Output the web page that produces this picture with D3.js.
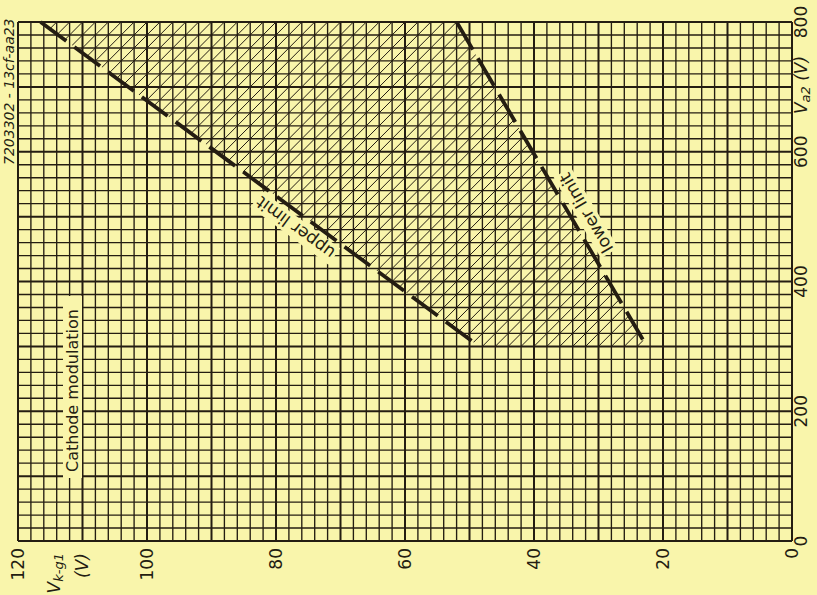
<!DOCTYPE html>
<html>
<head>
<meta charset="utf-8">
<script src="https://cdn.jsdelivr.net/npm/d3@7"></script>
<style>
  body { margin: 0; background: #f9f5ab; }
  svg { display: block; }
</style>
</head>
<body>
<div id="chart"></div>
<script>
// chart values
var vkTicks = [0, 20, 40, 60, 80, 100, 120];
var va2Ticks = [0, 200, 400, 600, 800];
var upperVk = [116.5, 48.5];
var upperVa2 = [800, 300];
var lowerVk = [52, 22.5];
var lowerVa2 = [800, 300];

var width = 817;
var height = 595;
var bg = "#f9f5ab";
var ink = "#241d12";

var x = d3.scaleLinear().domain([120, 0]).range([18, 792]);
var y = d3.scaleLinear().domain([0, 800]).range([541, 22]);

var svg = d3.select("#chart")
  .append("svg")
    .attr("width", width)
    .attr("height", height);

svg.append("rect")
  .attr("width", width)
  .attr("height", height)
  .attr("fill", bg);

// grid (minor every 2 V / 20 V, heavier every 10 V / 100 V)
var grid = svg.append("g");
grid.selectAll("line.v")
  .data(d3.range(0, 121, 2))
  .enter()
  .append("line")
    .attr("class", "v")
    .attr("x1", function(d) { return x(d); })
    .attr("x2", function(d) { return x(d); })
    .attr("y1", y(0))
    .attr("y2", y(800))
    .attr("stroke", ink)
    .attr("stroke-width", function(d) { return d % 10 === 0 ? 2 : 1.35; });

grid.selectAll("line.h")
  .data(d3.range(0, 801, 20))
  .enter()
  .append("line")
    .attr("class", "h")
    .attr("y1", function(d) { return y(d); })
    .attr("y2", function(d) { return y(d); })
    .attr("x1", x(120))
    .attr("x2", x(0))
    .attr("stroke", ink)
    .attr("stroke-width", function(d) { return d % 100 === 0 ? 2 : 1.35; });

// hatched working area
var area = [
  [upperVk[0], upperVa2[0]],
  [upperVk[1], upperVa2[1]],
  [lowerVk[1], lowerVa2[1]],
  [lowerVk[0], lowerVa2[0]]
];

svg.append("clipPath")
  .attr("id", "area-clip")
  .append("path")
    .attr("d", d3.line().x(function(d) { return x(d[0]); }).y(function(d) { return y(d[1]); })(area) + "Z");

svg.append("g")
  .attr("clip-path", "url(#area-clip)")
  .selectAll("line")
  .data(d3.range(0, 220, 2))
  .enter()
  .append("line")
    .attr("x1", function(c) { return x(c); })
    .attr("y1", y(0))
    .attr("x2", function(c) { return x(c - 80); })
    .attr("y2", y(800))
    .attr("stroke", ink)
    .attr("stroke-width", 1);

// limit lines
var limitLine = d3.line()
  .x(function(d) { return x(d[0]); })
  .y(function(d) { return y(d[1]); });

function drawLimit(vk, va2) {
  svg.append("path")
    .attr("d", limitLine(d3.zip(vk, va2)))
    .attr("fill", "none")
    .attr("stroke", ink)
    .attr("stroke-width", 3.8)
    .attr("stroke-dasharray", "32,10");
}
drawLimit(upperVk, upperVa2);
drawLimit(lowerVk, lowerVa2);

// labels along the lines
function lineLabel(vk, va2, atVa2, text, dy) {
  var t = (atVa2 - va2[1]) / (va2[0] - va2[1]);
  var vkAt = vk[1] + t * (vk[0] - vk[1]);
  var px = x(vkAt), py = y(atVa2);
  var ang = Math.atan2(y(va2[1]) - y(va2[0]), x(vk[1]) - x(vk[0])) * 180 / Math.PI + 180;
  var g = svg.append("g")
    .attr("transform", "translate(" + px + "," + py + ") rotate(" + ang + ")");
  var txt = g.append("text")
    .attr("text-anchor", "middle")
    .attr("y", dy)
    .attr("font-family", "DejaVu Sans, sans-serif")
    .attr("font-size", 17)
    .attr("fill", ink)
    .text(text);
  var b = txt.node().getBBox();
  g.insert("rect", "text")
    .attr("x", b.x - 2)
    .attr("y", b.y)
    .attr("width", b.width + 4)
    .attr("height", b.height)
    .attr("fill", bg);
}
lineLabel(upperVk, upperVa2, 500, "upper limit", -8);
lineLabel(lowerVk, lowerVa2, 494, "lower limit", 21);

// rotated text helper
function vtext(px, py, anchor, size, str, opts) {
  opts = opts || {};
  var t = svg.append("text")
    .attr("transform", "translate(" + px + "," + py + ") rotate(-90)")
    .attr("text-anchor", anchor)
    .attr("font-family", opts.family || "DejaVu Sans, sans-serif")
    .attr("font-size", size)
    .attr("font-style", opts.italic ? "italic" : "normal")
    .attr("fill", ink);
  if (str !== null) t.text(str);
  return t;
}

// right axis (Va2)
va2Ticks.forEach(function(v) {
  vtext(807, y(v), "middle", 17, String(v));
});
var va2Title = vtext(807, 85, "middle", 17, null, { italic: true });
va2Title.append("tspan").text("V");
va2Title.append("tspan").attr("font-size", 13).attr("dy", 3).text("a2");
va2Title.append("tspan").attr("dy", -3).text(" (V)");

// bottom axis (Vk-g1)
vkTicks.forEach(function(v) {
  vtext(x(v) + 6, 548, "end", 17, String(v));
});
var vkTitle = vtext(60, 553, "end", 17, null, { italic: true });
vkTitle.append("tspan").text("V");
vkTitle.append("tspan").attr("font-size", 13).attr("dy", 3).text("k-g1");
vtext(88, 553, "end", 17, "(V)", { italic: true });

// drawing number
vtext(14, 165, "start", 14, "7203302 - 13cf-aa23", { italic: true });

// Cathode modulation
svg.append("rect")
  .attr("x", 63)
  .attr("y", 296)
  .attr("width", 19)
  .attr("height", 182)
  .attr("fill", bg);
vtext(78, 472, "start", 16, "Cathode modulation");
</script>
</body>
</html>
